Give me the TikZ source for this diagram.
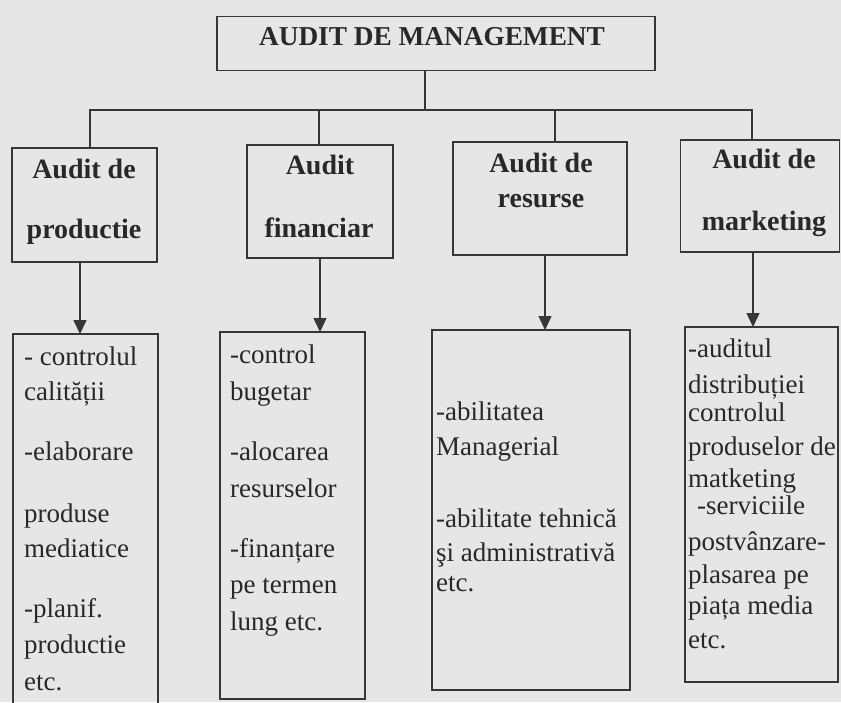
\documentclass[tikz,border=0pt]{standalone}
\usepackage{fontspec}
\setmainfont{Liberation Serif}
\usetikzlibrary{arrows.meta}
\definecolor{bgcol}{RGB}{230,230,230}
\definecolor{inkcol}{RGB}{40,40,40}
\definecolor{linecol}{RGB}{55,55,55}
\begin{document}
\begin{tikzpicture}[x=1pt,y=-1pt,
  boxshape/.style={draw=linecol,line width=1.6pt,inner sep=0pt,outer sep=0pt,rectangle},
  headtext/.style={anchor=base,inner sep=0pt,text=inkcol,font=\fontsize{28}{34}\selectfont\bfseries},
  itemtext/.style={anchor=base west,inner sep=0pt,text=inkcol,font=\fontsize{27}{32}\selectfont},
  link/.style={draw=linecol,line width=1.5pt},
  arrowlink/.style={link,-{Triangle[width=13pt,length=14pt]}}]
\useasboundingbox (0,0) rectangle (841,702);
\fill[bgcol] (0,0) rectangle (841,702);

% top box
\node[boxshape,minimum width=438pt,minimum height=54pt] (top) at (436,43.5) {};
\node[anchor=base,inner sep=0pt,text=inkcol,font=\fontsize{27.3}{33}\selectfont\bfseries] (toptext) at (432,45) {AUDIT DE MANAGEMENT};

% level 2 boxes
\node[boxshape,minimum width=145pt,minimum height=114pt] (a1) at (84.5,205) {};
\node[boxshape,minimum width=146pt,minimum height=113pt] (a2) at (320,201.5) {};
\node[boxshape,minimum width=174pt,minimum height=113pt] (a3) at (540,198.5) {};
\node[boxshape,minimum width=159pt,minimum height=112pt] (a4) at (760,196) {};

\node[headtext] (a1t1) at (84,178) {Audit de};
\node[headtext] (a1t2) at (84,238) {productie};
\node[headtext] (a2t1) at (320,174) {Audit};
\node[headtext] (a2t2) at (319,237) {financiar};
\node[headtext] (a3t1) at (541,172) {Audit de};
\node[headtext] (a3t2) at (541,207) {resurse};
\node[headtext] (a4t1) at (764,168) {Audit de};
\node[headtext] (a4t2) at (764,230) {marketing};

% tree connectors
\coordinate (bar) at (425,110);
\draw[link] (top.south -| bar) -- (bar);
\draw[link] (a1.north -| 90,0) |- (bar) -| (a4.north -| 752,0);
\draw[link] (a2.north -| 319,0) -- (319,110);
\draw[link] (a3.north -| 555,0) -- (555,110);

% level 3 boxes
\node[boxshape,minimum width=145pt,minimum height=375pt] (b1) at (85.5,521.5) {};
\node[boxshape,minimum width=145pt,minimum height=367pt] (b2) at (292.5,515.5) {};
\node[boxshape,minimum width=198pt,minimum height=360pt] (b3) at (531,510) {};
\node[boxshape,minimum width=153pt,minimum height=355pt] (b4) at (761.5,504.5) {};

% arrows
\draw[arrowlink] (a1.south -| 80,0) -- (b1.north -| 80,0);
\draw[arrowlink] (a2.south -| 320,0) -- (b2.north -| 320,0);
\draw[arrowlink] (a3.south -| 545,0) -- (b3.north -| 545,0);
\draw[arrowlink] (a4.south -| 753,0) -- (b4.north -| 753,0);

% texts of level 3
\foreach \yy/\tx [count=\i] in {365/- controlul, 400/calității, 460/-elaborare, 522/produse, 557/mediatice, 617/-planif., 653/productie, 690/etc.}
  \node[itemtext] (b1l\i) at (24,\yy) {\tx};
\foreach \yy/\tx [count=\i] in {363/-control, 400/bugetar, 460/-alocarea, 497/resurselor, 557/-finanțare, 593/pe termen, 630/lung etc.}
  \node[itemtext] (b2l\i) at (230,\yy) {\tx};
\foreach \yy/\tx [count=\i] in {420/-abilitatea, 455/Managerial, 527/-abilitate tehnică, 561/şi administrativă, 591/etc.}
  \node[itemtext] (b3l\i) at (436,\yy) {\tx};
\foreach \yy/\tx/\xx [count=\i] in {357/-auditul/688, 393/distribuției/688, 421/controlul/688, 455/produselor de/688, 487/matketing/688, 514/-serviciile/697, 550/postvânzare-/688, 583/plasarea pe/688, 614/piața media/688, 648/etc./688}
  \node[itemtext] (b4l\i) at (\xx,\yy) {\tx};
\end{tikzpicture}
\end{document}
